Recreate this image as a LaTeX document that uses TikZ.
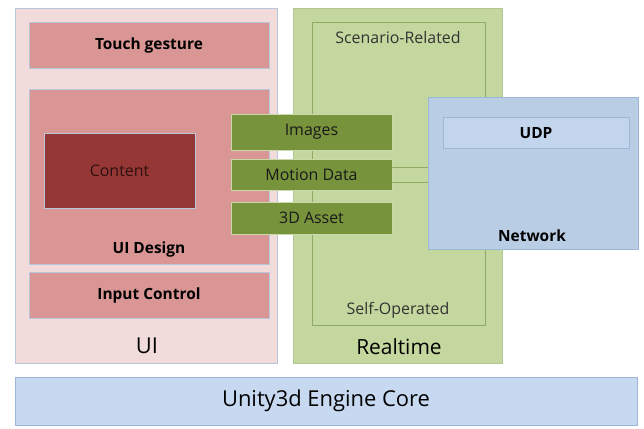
\documentclass[tikz,border=0pt]{standalone}
\usepackage{fontspec}
\setmainfont{Open Sans}
\usetikzlibrary{positioning}
\definecolor{uibg}{HTML}{F2DCDB}
\definecolor{uibox}{HTML}{D99694}
\definecolor{uiedge}{HTML}{B8C6DC}
\definecolor{contentc}{HTML}{953735}
\definecolor{rtbg}{HTML}{C4D79E}
\definecolor{rtedge}{HTML}{B3C890}
\definecolor{scedge}{HTML}{8FAA62}
\definecolor{gbox}{HTML}{77933C}
\definecolor{gedge}{HTML}{C9DAA8}
\definecolor{netbg}{HTML}{B9CDE5}
\definecolor{netedge}{HTML}{9DB6D6}
\definecolor{udpc}{HTML}{C3D5EC}
\definecolor{corec}{HTML}{C6D9F1}
\tikzset{
  base/.style={rectangle, inner sep=0pt, line width=0.8bp},
  fmid/.style={font=\fontsize{16}{18}\selectfont},
  fmidb/.style={font=\bfseries\fontsize{15.5}{18}\selectfont},
  pinkbox/.style={base, fill=uibox, draw=uiedge, fmidb},
  greenbox/.style={base, fill=gbox, draw=gedge, fmid, text=black!90},
  lbl/.style={inner sep=0pt, anchor=center},
}
\begin{document}
\begin{tikzpicture}[x=1bp,y=-1bp]
\useasboundingbox (0,0) rectangle (644,428);
% UI
\node[base, fill=uibg, draw=uiedge, minimum width=262bp, minimum height=355bp] (ui) at (146,185.5) {};
\node[lbl, font=\fontsize{22}{24}\selectfont] (uil) at (147,346) {UI};
\node[pinkbox, minimum width=240bp, minimum height=46bp] (touch) at (149,45) {Touch gesture};
\node[base, fill=uibox, draw=uiedge, minimum width=240bp, minimum height=175bp] (design) at (149,176.5) {};
\node[lbl, fmidb] (designl) at (149,249) {UI Design};
\node[base, fill=contentc, draw=uiedge, minimum width=151bp, minimum height=75bp, text=black!70!contentc, fmid] (content) at (119.5,170.5) {Content};
\node[pinkbox, minimum width=240bp, minimum height=46bp] (input) at (149,295) {Input Control};
% Realtime
\node[base, fill=rtbg, draw=rtedge, minimum width=209bp, minimum height=355bp] (rt) at (397.5,185.5) {};
\node[lbl, font=\fontsize{21}{24}\selectfont] (rtl) at (399,347) {Realtime};
\node[base, draw=scedge, minimum width=173bp, minimum height=303bp] (sc) at (398.5,173.5) {};
\node[lbl, fmid, text=black!80] (scl) at (398,38) {Scenario-Related};
\node[lbl, fmid, text=black!80] (sol) at (398,310) {Self-Operated};
% Network
\node[base, fill=netbg, draw=netedge, minimum width=210bp, minimum height=152bp] (net) at (533,173) {};
\node[base, fill=udpc, draw=netedge, minimum width=186bp, minimum height=31bp, fmidb] (udp) at (536,133) {UDP};
\node[lbl, fmidb] (netl) at (532,236) {Network};
% Green data boxes
\node[greenbox, minimum width=161bp, minimum height=36bp] (img) at (311.5,132) {Images};
\node[greenbox, minimum width=161bp, minimum height=31bp] (mot) at (311.5,174.5) {Motion Data};
\node[greenbox, minimum width=161bp, minimum height=32bp] (asset) at (311.5,218) {3D Asset};
% connectors
\draw[scedge, line width=0.8bp] ([yshift=-8bp]mot.east) -- ([yshift=-8bp]mot.east -| net.west);
\draw[scedge, line width=0.8bp] ([yshift=7bp]mot.east) -- ([yshift=7bp]mot.east -| net.west);
% Core
\node[base, fill=corec, draw=netedge, minimum width=622bp, minimum height=48bp, font=\fontsize{22}{24}\selectfont] (core) at (326,401) {Unity3d Engine Core};
\end{tikzpicture}
\end{document}
